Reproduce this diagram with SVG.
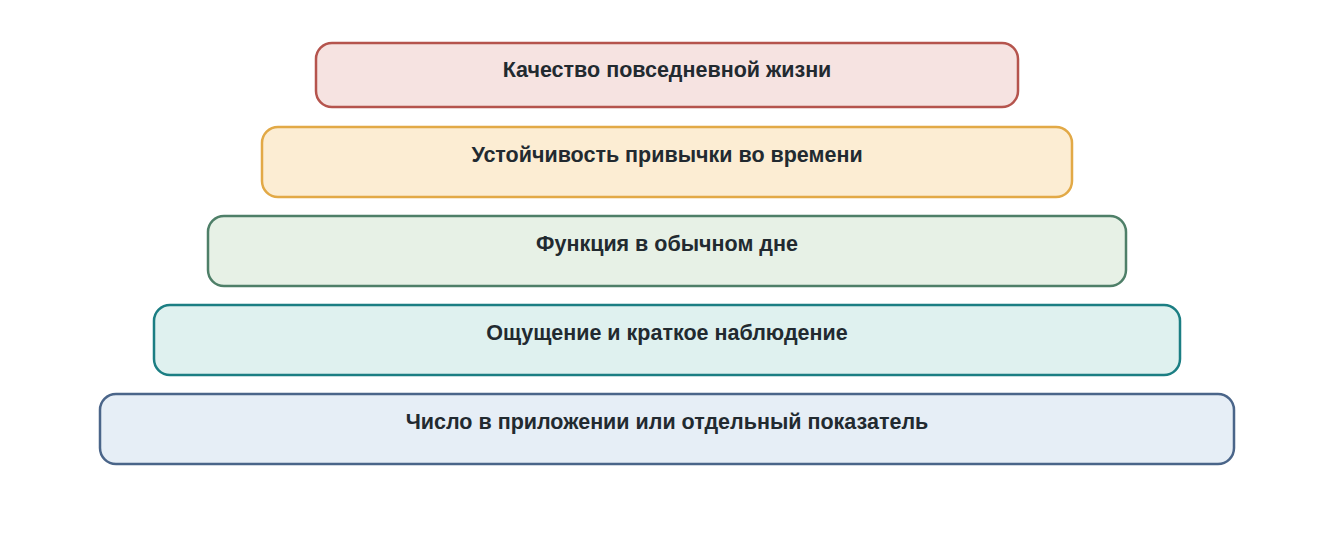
<svg xmlns="http://www.w3.org/2000/svg" width="1334" height="551" viewBox="0 0 1334 551">
<style>
.box{stroke-width:2.5}
.lbl{font-family:"Liberation Sans",Arial,sans-serif;font-weight:bold;font-size:21.5px;fill:#222a30;text-anchor:middle}
</style>
<rect width="1334" height="551" fill="#ffffff"/>
<g id="connectors"></g>
<g id="n1"><rect class="box" x="316" y="43" width="702" height="64" rx="16" fill="#f6e3e1" stroke="#b5544d"/><text class="lbl" x="667" y="77">Качество повседневной жизни</text></g>
<g id="n2"><rect class="box" x="262" y="127" width="810" height="70" rx="16" fill="#fcedd3" stroke="#e2a946"/><text class="lbl" x="667" y="162">Устойчивость привычки во времени</text></g>
<g id="n3"><rect class="box" x="208" y="216" width="918" height="70" rx="16" fill="#e7f1e6" stroke="#4e7f68"/><text class="lbl" x="667" y="251">Функция в обычном дне</text></g>
<g id="n4"><rect class="box" x="154" y="305" width="1026" height="70" rx="16" fill="#dff1ef" stroke="#1b7e83"/><text class="lbl" x="667" y="340">Ощущение и краткое наблюдение</text></g>
<g id="n5"><rect class="box" x="100" y="394" width="1134" height="70" rx="16" fill="#e6eef6" stroke="#4a6589"/><text class="lbl" x="667" y="429">Число в приложении или отдельный показатель</text></g>
</svg>
